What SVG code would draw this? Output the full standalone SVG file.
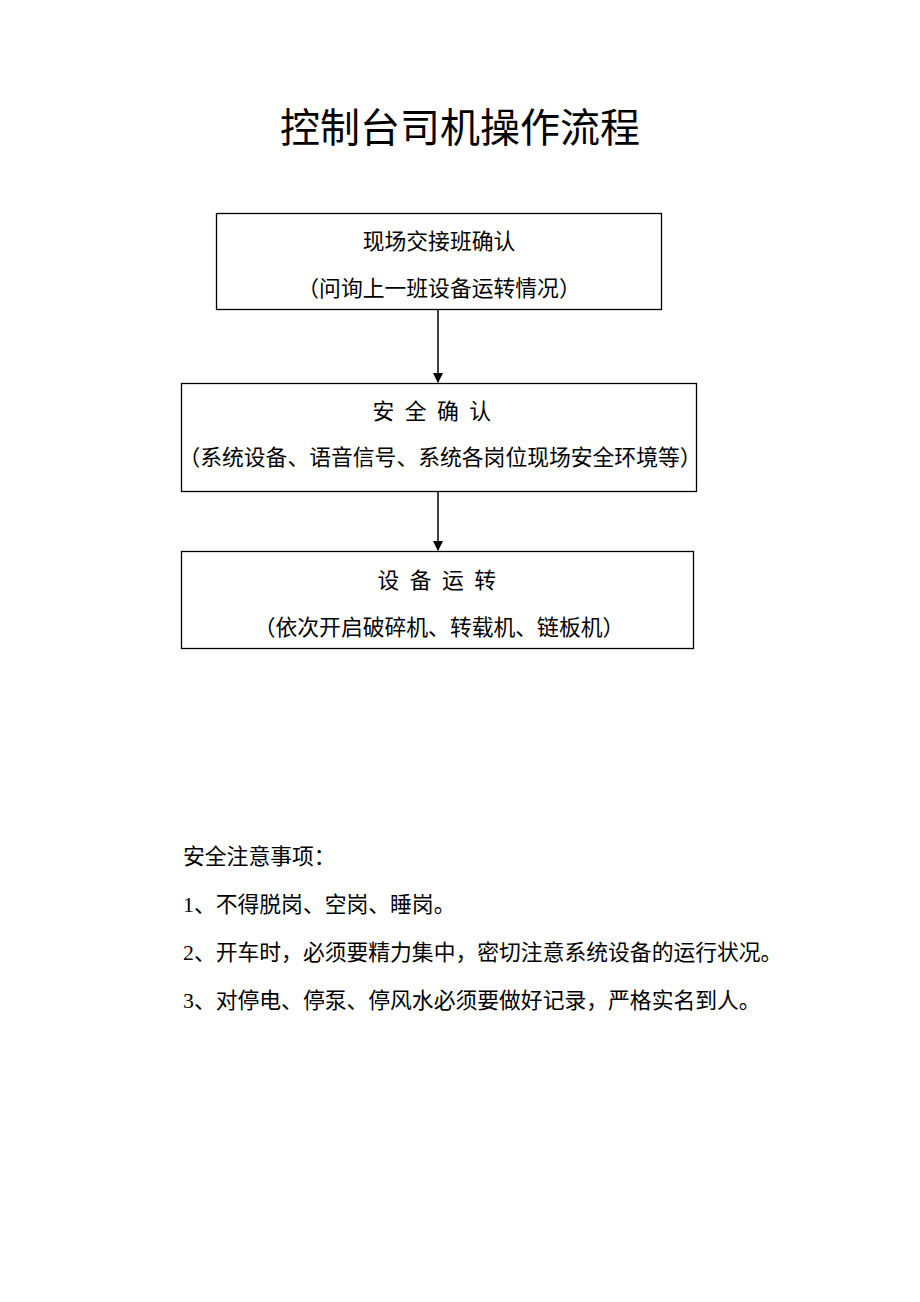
<svg xmlns="http://www.w3.org/2000/svg" width="920" height="1302" viewBox="0 0 920 1302">
<style>
text{font-family:"Liberation Serif","Noto Sans CJK SC",serif;fill:#000}
.t{font-size:40px}
.b{font-size:21.8px}
.box{fill:#fff;stroke:#000;stroke-width:1.3}
.c{text-anchor:middle}
.sp{letter-spacing:2.5px}
.ln{stroke:#000;stroke-width:1.5;fill:none}
</style>
<defs>
<marker id="ah" markerWidth="10" markerHeight="12" refX="9" refY="5" orient="auto" markerUnits="userSpaceOnUse">
<path d="M0,0 L10,5 L0,10 Z" fill="#000"/>
</marker>
</defs>
<rect width="920" height="1302" fill="#fff"/>
<text class="t c" x="460" y="142">控制台司机操作流程</text>
<g id="connectors">
<line class="ln" x1="438" y1="310" x2="438" y2="382" marker-end="url(#ah)"/>
<line class="ln" x1="438" y1="492" x2="438" y2="550" marker-end="url(#ah)"/>
</g>
<g id="node1">
<rect class="box" x="216.5" y="213.5" width="445" height="96"/>
<text class="b c" x="439" y="249">现场交接班确认</text>
<text class="b c" x="439" y="296">（问询上一班设备运转情况）</text>
</g>
<g id="node2">
<rect class="box" x="181.5" y="383.5" width="515" height="108"/>
<text class="b c sp" x="433" y="419" xml:space="preserve">安 全 确 认</text>
<text class="b c" x="440" y="465">（系统设备、语音信号、系统各岗位现场安全环境等）</text>
</g>
<g id="node3">
<rect class="box" x="181.5" y="551.5" width="512" height="97"/>
<text class="b c sp" x="438" y="588" xml:space="preserve">设 备 运 转</text>
<text class="b c" x="439" y="635">（依次开启破碎机、转载机、链板机）</text>
</g>
<g id="notes">
<text class="b" x="183" y="864">安全注意事项：</text>
<text class="b" x="183" y="912">1、不得脱岗、空岗、睡岗。</text>
<text class="b" x="183" y="960">2、开车时，必须要精力集中，密切注意系统设备的运行状况。</text>
<text class="b" x="183" y="1008">3、对停电、停泵、停风水必须要做好记录，严格实名到人。</text>
</g>
</svg>
